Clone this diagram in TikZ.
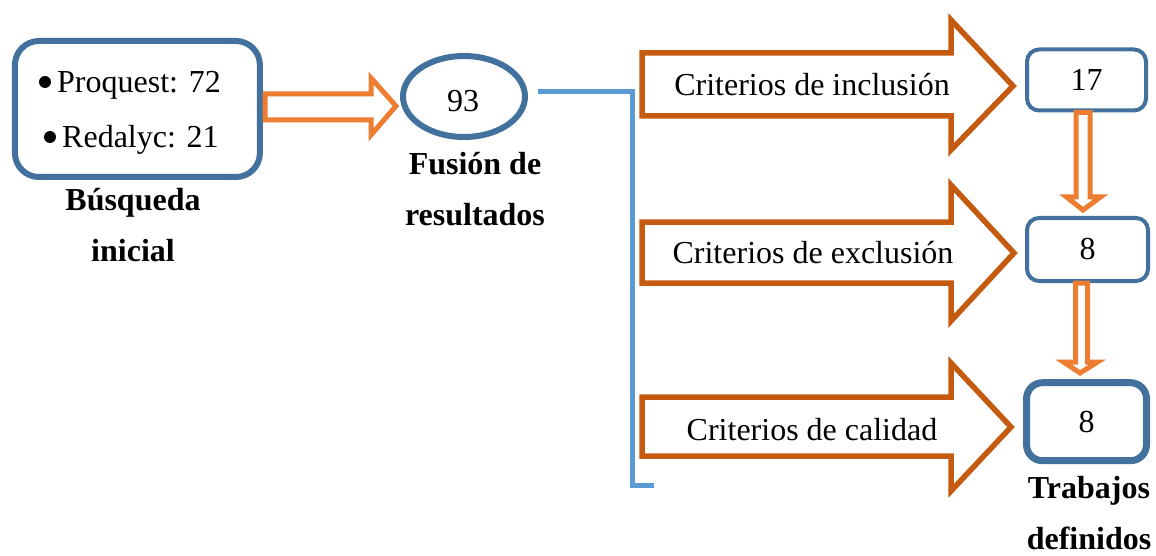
\documentclass[tikz,border=0pt]{standalone}
\usepackage{fontspec}
\setmainfont{Liberation Serif}
\usetikzlibrary{shapes.geometric}
\definecolor{dblue}{HTML}{41719C}
\definecolor{lblue}{HTML}{5B9BD5}
\definecolor{brown}{HTML}{C55A11}
\definecolor{orng}{HTML}{ED7D31}
\tikzset{
  rbox/.style={draw=dblue, rounded corners=#1, inner sep=0pt},
  bigarrow/.style={draw=brown, line width=5.5pt, miter limit=20, fill=white},
  smallarrow/.style={draw=orng, line width=5pt, miter limit=20, fill=white},
  lbl/.style={font=\fontsize{32}{51}\selectfont\bfseries, align=center, inner sep=0pt},
  txt/.style={font=\fontsize{32}{38}\selectfont, inner sep=0pt}
}
\begin{document}
\begin{tikzpicture}[x=1pt,y=-1pt]
\useasboundingbox (0,0) rectangle (1156,556);
% left box
\node[rbox=24pt, line width=6pt, minimum width=245pt, minimum height=136pt] (box1) at (137.4,109) {};
\fill (45,82) circle (6);
\fill (50,137) circle (6);
\node[txt, anchor=base west] (t1) at (57,93) {Proquest: 72};
\node[txt, anchor=base west] (t2) at (62,148) {Redalyc: 21};
\node[lbl] (l1) at (133,225) {Búsqueda\\inicial};
% ellipse
\node[draw=dblue, ellipse, line width=6pt, minimum width=122pt, minimum height=81pt, inner sep=0pt] (ell) at (464,96.5) {};
\node[txt] (n93) at (463,101) {93};
\node[lbl] (l2) at (475,189) {Fusión de\\resultados};
% orange arrow box1 -> ell
\draw[smallarrow] (265,94) -- (371,94) -- (371,78) -- (396,106) -- (371,135) -- (371,120) -- (265,120) -- cycle;
% bracket
\coordinate (br0) at (538,91.5);
\coordinate (br1) at (654,485);
\draw[lblue, line width=5pt] (br0) -- (632.5,91.5) -- (632.5,485) -- (br1);
% big arrows
\draw[bigarrow] (642,53) -- (951,53) -- (951,20) -- (1013,86) -- (951,150) -- (951,116) -- (642,116) -- cycle;
\draw[bigarrow] (642,222) -- (951,222) -- (951,185) -- (1014,253) -- (951,321) -- (951,283) -- (642,283) -- cycle;
\draw[bigarrow] (642,397) -- (951,397) -- (951,363) -- (1011,427) -- (951,491) -- (951,456) -- (642,456) -- cycle;
\node[txt] (c1) at (812,85) {Criterios de inclusión};
\node[txt] (c2) at (813,253) {Criterios de exclusión};
\node[txt] (c3) at (812,430) {Criterios de calidad};
% result boxes
\node[rbox=12pt, line width=4pt, minimum width=119pt, minimum height=61pt, font=\fontsize{32}{38}\selectfont] (b1) at (1086.5,80) {17};
\node[rbox=12pt, line width=4pt, minimum width=121pt, minimum height=63pt, font=\fontsize{32}{38}\selectfont] (b2) at (1087.5,249.5) {8};
\node[rbox=16pt, line width=7pt, minimum width=120pt, minimum height=78pt, font=\fontsize{32}{38}\selectfont] (b3) at (1086.5,421.7) {8};
\node[lbl] (l3) at (1089,513) {Trabajos\\definidos};
% small vertical arrows
\draw[smallarrow] (1076,0 |- b1.south) -- (1076,197) -- (1066.5,197) -- (1083,210) -- (1100.5,197) -- (1090,197) -- (1090,0 |- b1.south) -- cycle;
\draw[smallarrow] (1075.5,0 |- b2.south) -- (1075.5,362) -- (1063.5,362) -- (1080,373) -- (1097.5,362) -- (1087.5,362) -- (1087.5,0 |- b2.south) -- cycle;
\end{tikzpicture}
\end{document}
